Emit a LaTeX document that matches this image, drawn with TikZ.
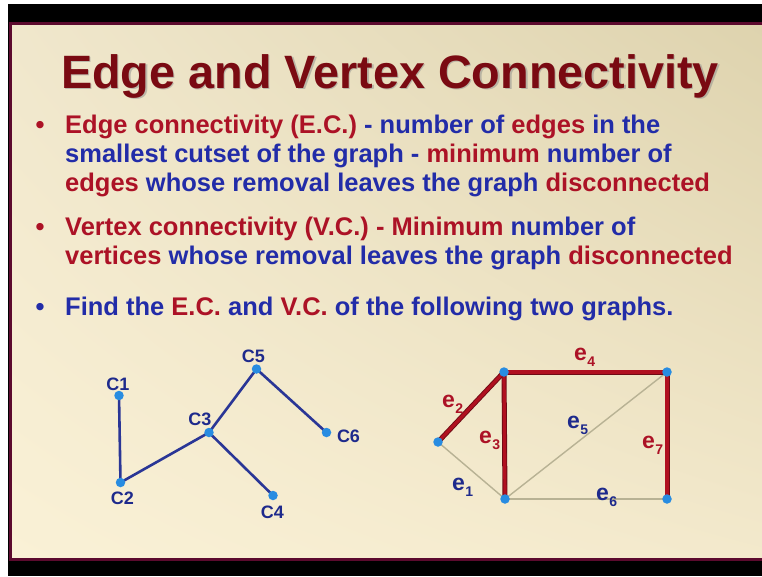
\documentclass[tikz,border=0pt]{standalone}
\usepackage{fontspec}
\setmainfont{Liberation Sans}
\usetikzlibrary{shadings}
\definecolor{titlered}{RGB}{122,10,18}
\definecolor{txtred}{RGB}{172,18,38}
\definecolor{txtblue}{RGB}{34,44,168}
\definecolor{navy}{RGB}{30,42,140}
\definecolor{edgeblue}{RGB}{42,54,150}
\definecolor{dotblue}{RGB}{40,140,225}
\definecolor{thickred}{RGB}{176,16,32}
\definecolor{thickdark}{RGB}{110,10,20}
\definecolor{thingray}{RGB}{184,178,148}
\definecolor{border}{RGB}{92,10,46}
\definecolor{bgUL}{RGB}{240,231,204}
\definecolor{bgUR}{RGB}{222,211,174}
\definecolor{bgLL}{RGB}{250,241,214}
\definecolor{bgLR}{RGB}{243,233,204}
\newcommand{\rtx}[1]{\textcolor{txtred}{#1}}
\newcommand{\btx}[1]{\textcolor{txtblue}{#1}}
\newcommand{\esub}[2]{e\kern0.3pt\raisebox{-6pt}{\fontsize{14}{14}\selectfont #2}}
\begin{document}
\begin{tikzpicture}[x=1pt,y=-1pt,
  titlestyle/.style={anchor=base,inner sep=0pt,font=\fontsize{46.8}{46.8}\selectfont\bfseries},
  bodytext/.style={anchor=base west,inner sep=0pt,font=\fontsize{25.5}{29}\selectfont\bfseries},
  bulletmark/.style={anchor=base,inner sep=0pt,font=\fontsize{25.5}{29}\selectfont\bfseries},
  dot/.style={circle,fill=dotblue,inner sep=0pt,minimum size=9.5pt},
  clabel/.style={inner sep=0pt,font=\fontsize{18}{18}\selectfont\bfseries,text=navy},
  elabel/.style={anchor=base west,inner sep=0pt,font=\fontsize{23}{23}\selectfont\bfseries},
  treeedge/.style={draw=edgeblue,line width=2.6pt},
  thinedge/.style={draw=thingray,line width=1.4pt},
  thickedgeback/.style={draw=thickdark,line width=5pt},
  thickedge/.style={draw=thickred,line width=3.2pt}]
\useasboundingbox (0,0) rectangle (762,576);
% frame
\fill[white] (0,0) rectangle (762,576);
\fill[black] (8,4) rectangle (762,576);
\shade[upper left=bgUL,upper right=bgUR,lower left=bgLL,lower right=bgLR] (10,23.5) rectangle (762,559.5);
\draw[border,line width=3pt] (775,23.5) -- (10,23.5) -- (10,559.5) -- (775,559.5);
% title
\node[titlestyle,text=black!45,opacity=0.5] (titleshadow) at (391.5,89.5) {Edge and Vertex Connectivity};
\node[titlestyle,text=titlered] (title) at (390,88) {Edge and Vertex Connectivity};
% bullets
\node[bulletmark,text=txtred] (b1) at (40,133) {•};
\node[bodytext] (l1) at (65,133) {\rtx{Edge connectivity (E.C.)} \btx{- number of} \rtx{edges} \btx{in the}};
\node[bodytext] (l2) at (65,162) {\btx{smallest cutset of the graph -} \rtx{minimum} \btx{number of}};
\node[bodytext] (l3) at (65,191) {\rtx{edges} \btx{whose removal leaves the graph} \rtx{disconnected}};
\node[bulletmark,text=txtred] (b2) at (40,235) {•};
\node[bodytext] (l4) at (65,235) {\rtx{Vertex connectivity (V.C.) - Minimum} \btx{number of}};
\node[bodytext] (l5) at (65,264) {\rtx{vertices} \btx{whose removal leaves the graph} \rtx{disconnected}};
\node[bulletmark,text=txtblue] (b3) at (40,315) {•};
\node[bodytext] (l6) at (65,315) {\btx{Find the} \rtx{E.C.} \btx{and} \rtx{V.C.} \btx{of the following two graphs.}};
% left graph
\coordinate (p1) at (119,395.5);
\coordinate (p2) at (120.5,482.5);
\coordinate (p3) at (209,432.5);
\coordinate (p5) at (256.5,369);
\coordinate (p6) at (326.5,432.5);
\coordinate (p4) at (273,495.5);
\draw[treeedge] (p1) -- (p2);
\draw[treeedge] (p2) -- (p3);
\draw[treeedge] (p3) -- (p5);
\draw[treeedge] (p5) -- (p6);
\draw[treeedge] (p3) -- (p4);
\node[dot] (c1) at (p1) {};
\node[dot] (c2) at (p2) {};
\node[dot] (c3) at (p3) {};
\node[dot] (c5) at (p5) {};
\node[dot] (c6) at (p6) {};
\node[dot] (c4) at (p4) {};
\node[clabel] (lc1) at (118,384) {C1};
\node[clabel] (lc2) at (122.5,498.5) {C2};
\node[clabel] (lc3) at (200,419) {C3};
\node[clabel] (lc5) at (253.5,356) {C5};
\node[clabel] (lc6) at (348.5,436) {C6};
\node[clabel] (lc4) at (272.5,512.5) {C4};
% right graph
\coordinate (va) at (438,442);
\coordinate (vb) at (504,372);
\coordinate (vc) at (667,372);
\coordinate (vd) at (505,499);
\coordinate (ve) at (667,499);
\draw[thinedge] (va) -- (vd);
\draw[thinedge] (vd) -- (vc);
\draw[thinedge] (vd) -- (ve);
\draw[thickedgeback] (va) -- (vb);
\draw[thickedgeback] (vb) -- (vd);
\draw[thickedgeback] (vb) -- (vc);
\draw[thickedgeback] (vc) -- (ve);
\draw[thickedge] (va) -- (vb);
\draw[thickedge] (vb) -- (vd);
\draw[thickedge] (vb) -- (vc);
\draw[thickedge] (vc) -- (ve);
\node[dot] (na) at (va) {};
\node[dot] (nb) at (vb) {};
\node[dot] (nc) at (vc) {};
\node[dot] (nd) at (vd) {};
\node[dot] (ne) at (ve) {};
\node[elabel,text=txtred] (e4) at (574,360) {\esub{e}{4}};
\node[elabel,text=txtred] (e2) at (442,407) {\esub{e}{2}};
\node[elabel,text=txtred] (e3) at (479,443) {\esub{e}{3}};
\node[elabel,text=navy] (e5) at (567,428) {\esub{e}{5}};
\node[elabel,text=txtred] (e7) at (642,448) {\esub{e}{7}};
\node[elabel,text=navy] (e1) at (452,490) {\esub{e}{1}};
\node[elabel,text=navy] (e6) at (596,500) {\esub{e}{6}};
\end{tikzpicture}
\end{document}
